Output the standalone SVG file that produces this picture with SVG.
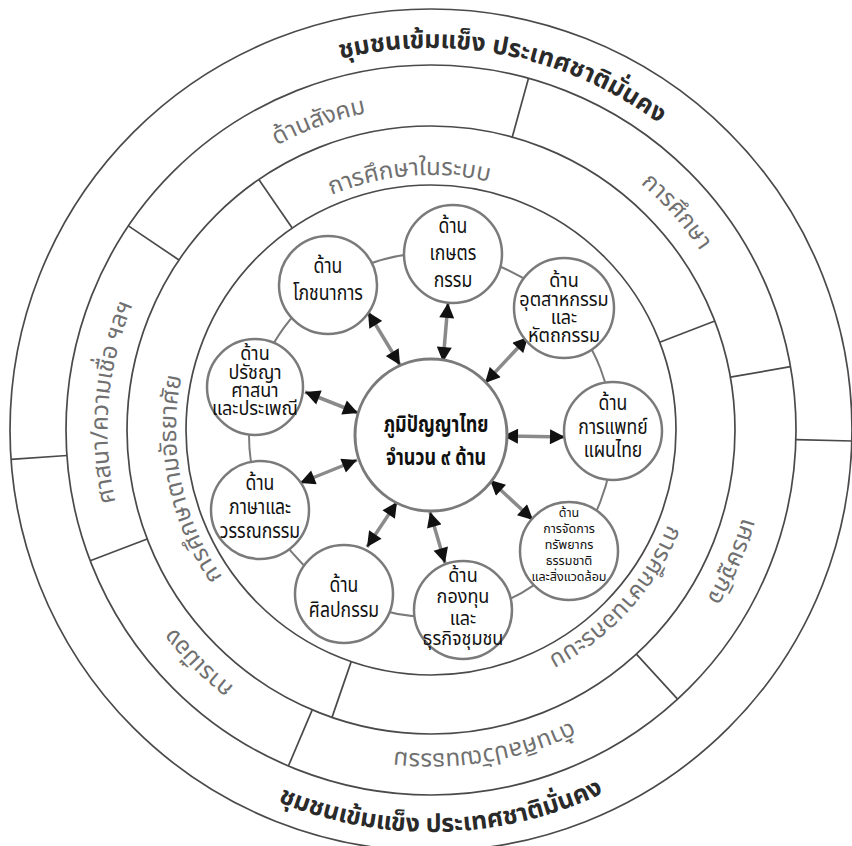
<svg xmlns="http://www.w3.org/2000/svg" xmlns:xlink="http://www.w3.org/1999/xlink" width="852" height="846" viewBox="0 0 852 846">
<style>
.ring{fill:none;stroke:#4a4a4a;stroke-width:1.7}
.div{stroke:#4a4a4a;stroke-width:1.7}
.rt{font-family:'Noto Sans Thai','Noto Sans','DejaVu Sans',sans-serif;font-size:24px;fill:#707070}
.ot{font-family:'Noto Sans Thai','Noto Sans','DejaVu Sans',sans-serif;font-size:25px;font-weight:bold;fill:#2a2a2a}
.node circle{fill:#fff;stroke:#7a7a7a;stroke-width:2.5}
.nt{font-family:'Noto Sans Thai','Noto Sans','DejaVu Sans',sans-serif;font-size:22px;fill:#111;text-anchor:middle}
.n4{font-size:20px}
.n5{font-size:12.5px}
.ct{font-family:'Noto Sans Thai','Noto Sans','DejaVu Sans',sans-serif;font-size:23px;font-weight:bold;fill:#111;text-anchor:middle}
.arr{stroke:#8a8a8a;stroke-width:3.5;marker-start:url(#ah);marker-end:url(#ah)}
</style>
<defs>
<marker id="ah" viewBox="0 0 10 10" refX="10" refY="5" markerWidth="16" markerHeight="15" markerUnits="userSpaceOnUse" orient="auto-start-reverse"><path d="M0,0 L10,5 L0,10 z" fill="#111"/></marker>
<path id="oT" d="M431,812 A382,382 0 1,1 431,48 A382,382 0 1,1 431,812"/>
<path id="oB" d="M29,430 A402,402 0 0,0 833,430"/>
<path id="mT" d="M431,753.5 A323.5,323.5 0 1,1 431,106.5 A323.5,323.5 0 1,1 431,753.5"/>
<path id="mB" d="M431,106.5 A323.5,323.5 0 1,1 431,753.5 A323.5,323.5 0 1,1 431,106.5"/>
<path id="iT" d="M431,685 A255,255 0 1,1 431,175 A255,255 0 1,1 431,685"/>
</defs>
<rect width="852" height="846" fill="#fff"/>
<g id="rings">
<circle class="ring" cx="431" cy="430" r="421"/>
<circle class="ring" cx="431" cy="430" r="365"/>
<circle class="ring" cx="431" cy="430" r="304"/>
<circle class="ring" cx="431" cy="430" r="245"/>
<line class="div" x1="796" y1="439.6" x2="852" y2="441"/>
<line class="div" x1="67" y1="455.5" x2="11" y2="459.4"/>
<line class="div" x1="512" y1="138" x2="528.5" y2="78.3"/>
<line class="div" x1="730.4" y1="377.2" x2="790.5" y2="366.6"/>
<line class="div" x1="636.4" y1="654.1" x2="677.6" y2="699.1"/>
<line class="div" x1="312.2" y1="709.8" x2="288.4" y2="766"/>
<line class="div" x1="147.2" y1="539" x2="90.2" y2="560.8"/>
<line class="div" x1="179" y1="260" x2="128.4" y2="225.9"/>
<line class="div" x1="292.2" y1="228.1" x2="258.8" y2="179.5"/>
<line class="div" x1="659.7" y1="342.2" x2="714.8" y2="321"/>
<line class="div" x1="351.2" y1="661.6" x2="332" y2="717.4"/>
</g>
<g id="ring-labels">
<text class="ot"><textPath xlink:href="#oT" startOffset="1276" text-anchor="middle">ชุมชนเข้มแข็ง ประเทศชาติมั่นคง</textPath></text>
<text class="ot"><textPath xlink:href="#oB" startOffset="642" text-anchor="middle">ชุมชนเข้มแข็ง ประเทศชาติมั่นคง</textPath></text>
<text class="rt"><textPath xlink:href="#mT" startOffset="903" text-anchor="middle">ด้านสังคม</textPath></text>
<text class="rt"><textPath xlink:href="#mT" startOffset="1289" text-anchor="middle">การศึกษา</textPath></text>
<text class="rt"><textPath xlink:href="#mT" startOffset="1657" text-anchor="middle">เศรษฐกิจ</textPath></text>
<text class="rt"><textPath xlink:href="#mB" startOffset="962" text-anchor="middle">ด้านศิลปวัฒนธรรม</textPath></text>
<text class="rt"><textPath xlink:href="#mT" startOffset="254" text-anchor="middle">การเมือง</textPath></text>
<text class="rt"><textPath xlink:href="#mT" startOffset="536" text-anchor="middle">ศาสนา/ความเชื่อ ฯลฯ</textPath></text>
<text class="rt"><textPath xlink:href="#iT" startOffset="779" text-anchor="middle">การศึกษาในระบบ</textPath></text>
<text class="rt"><textPath xlink:href="#iT" startOffset="1389" text-anchor="middle">การศึกษานอกระบบ</textPath></text>
<text class="rt"><textPath xlink:href="#iT" startOffset="349" text-anchor="middle">การศึกษาตามอัธยาศัย</textPath></text>
</g>
<g id="connectors">
<circle cx="431" cy="435" r="182" fill="none" stroke="#7a7a7a" stroke-width="2"/>
<line class="arr" x1="443" y1="362" x2="448" y2="303"/>
<line class="arr" x1="400" y1="365" x2="368" y2="312"/>
<line class="arr" x1="485" y1="383" x2="528" y2="337"/>
<line class="arr" x1="358" y1="413" x2="305" y2="392"/>
<line class="arr" x1="503" y1="436" x2="565" y2="437"/>
<line class="arr" x1="357" y1="460" x2="300" y2="483"/>
<line class="arr" x1="397" y1="502" x2="367" y2="547"/>
<line class="arr" x1="430" y1="512" x2="445" y2="563"/>
<line class="arr" x1="490" y1="480" x2="533" y2="520"/>
</g>
<g id="center" class="node"><circle cx="431" cy="435" r="76" style="stroke-width:3"/>
<text class="ct" transform="translate(95.9,0) scale(0.78,1)"><tspan x="436" y="432">ภูมิปัญญาไทย</tspan><tspan x="436" y="465">จำนวน ๙ ด้าน</tspan></text></g>
<g id="n-kaset" class="node"><circle cx="453" cy="254" r="49"/>
<text class="nt" transform="translate(90.6,0) scale(0.8,1)"><tspan x="453" y="233">ด้าน</tspan><tspan x="453" y="260">เกษตร</tspan><tspan x="453" y="287">กรรม</tspan></text></g>
<g id="n-pochana" class="node"><circle cx="328" cy="285" r="49"/>
<text class="nt" transform="translate(65.6,0) scale(0.8,1)"><tspan x="328" y="273">ด้าน</tspan><tspan x="328" y="300">โภชนาการ</tspan></text></g>
<g id="n-utsahakam" class="node"><circle cx="564" cy="308" r="50"/>
<text class="nt n4" transform="translate(56.4,0) scale(0.9,1)"><tspan x="564" y="287">ด้าน</tspan><tspan x="564" y="306">อุตสาหกรรม</tspan><tspan x="564" y="324">และ</tspan><tspan x="564" y="342">หัตถกรรม</tspan></text></g>
<g id="n-pratya" class="node"><circle cx="255" cy="387" r="48"/>
<text class="nt n4" transform="translate(25.5,0) scale(0.9,1)"><tspan x="255" y="360">ด้าน</tspan><tspan x="255" y="379">ปรัชญา</tspan><tspan x="255" y="397">ศาสนา</tspan><tspan x="255" y="415">และประเพณี</tspan></text></g>
<g id="n-phaet" class="node"><circle cx="613" cy="431" r="49"/>
<text class="nt" transform="translate(122.6,0) scale(0.8,1)"><tspan x="613" y="410">ด้าน</tspan><tspan x="613" y="434">การแพทย์</tspan><tspan x="613" y="457">แผนไทย</tspan></text></g>
<g id="n-phasa" class="node"><circle cx="260" cy="510" r="49"/>
<text class="nt" transform="translate(52,0) scale(0.8,1)"><tspan x="260" y="490">ด้าน</tspan><tspan x="260" y="514">ภาษาและ</tspan><tspan x="260" y="538">วรรณกรรม</tspan></text></g>
<g id="n-sinlapa" class="node"><circle cx="344" cy="594" r="49"/>
<text class="nt" transform="translate(68.8,0) scale(0.8,1)"><tspan x="344" y="592">ด้าน</tspan><tspan x="344" y="617">ศิลปกรรม</tspan></text></g>
<g id="n-kongthun" class="node"><circle cx="463" cy="610" r="49"/>
<text class="nt n4" transform="translate(46.3,0) scale(0.9,1)"><tspan x="463" y="582">ด้าน</tspan><tspan x="463" y="603">กองทุน</tspan><tspan x="463" y="625">และ</tspan><tspan x="463" y="645">ธุรกิจชุมชน</tspan></text></g>
<g id="n-sapphayakon" class="node"><circle cx="569" cy="551" r="49"/>
<text class="nt n5"><tspan x="569" y="517">ด้าน</tspan><tspan x="569" y="532.5">การจัดการ</tspan><tspan x="569" y="548.5">ทรัพยากร</tspan><tspan x="569" y="564.5">ธรรมชาติ</tspan><tspan x="569" y="580.5">และสิ่งแวดล้อม</tspan></text></g>
</svg>
